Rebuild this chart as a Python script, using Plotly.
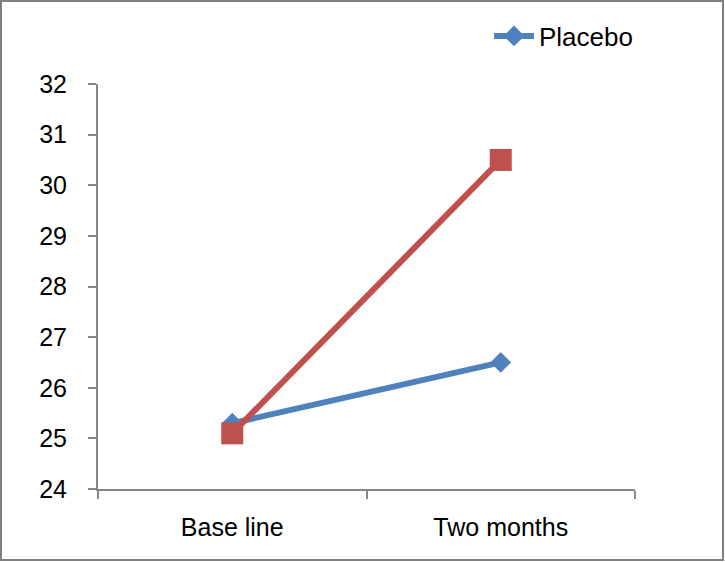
import plotly.graph_objects as go

categories = ["Base line", "Two months"]
placebo = [25.3, 26.5]
treatment = [25.1, 30.5]
y_ticks = [24, 25, 26, 27, 28, 29, 30, 31, 32]

W, H = 725, 562
L, R, T, B = 98, 90, 84, 73
pw, ph = W - L - R, H - T - B

fig = go.Figure()
fig.add_trace(go.Scatter(
    x=categories, y=placebo, name="Placebo", mode="lines+markers",
    line=dict(color="#4F81BD", width=6),
    marker=dict(symbol="diamond", size=16, color="#4F81BD"),
))
fig.add_trace(go.Scatter(
    x=categories, y=treatment, name="Treatment", mode="lines+markers",
    showlegend=False,
    line=dict(color="#C0504D", width=6),
    marker=dict(symbol="square", size=22, color="#C0504D"),
))

font = dict(family="Liberation Sans, Arial, sans-serif", size=25, color="#000000")
fig.update_layout(
    width=W, height=H,
    margin=dict(l=L, r=R, t=T, b=B, pad=0),
    paper_bgcolor="white", plot_bgcolor="white",
    font=font,
    showlegend=True,
    legend=dict(x=(638 - L) / pw, xanchor="right", y=(H - B - 36) / ph, yanchor="middle",
                bgcolor="rgba(0,0,0,0)", font=dict(size=26), itemwidth=40),
    xaxis=dict(type="category", tickson="boundaries", range=[-0.5, 1.5],
               showline=True, linecolor="#868686", linewidth=2,
               ticks="outside", ticklen=8, tickwidth=2, tickcolor="#868686",
               showgrid=False, zeroline=False, ticklabelstandoff=15),
    yaxis=dict(range=[24, 32], tickvals=y_ticks, showline=True, linecolor="#868686",
               linewidth=2, ticks="outside", ticklen=8, tickwidth=2, tickcolor="#868686",
               showgrid=False, zeroline=False, ticklabelstandoff=16),
    shapes=[dict(type="rect", xref="paper", yref="paper",
                 x0=(1 - L) / pw, x1=(W - 2 - L) / pw,
                 y0=-(H - 2 - (T + ph)) / ph, y1=(T - 1) / ph + 1,
                 line=dict(color="#808080", width=2), layer="below")],
)
fig.write_html("out.html", config={"displayModeBar": False},
               post_script="document.body.style.margin='0';document.body.style.overflow='hidden';")
